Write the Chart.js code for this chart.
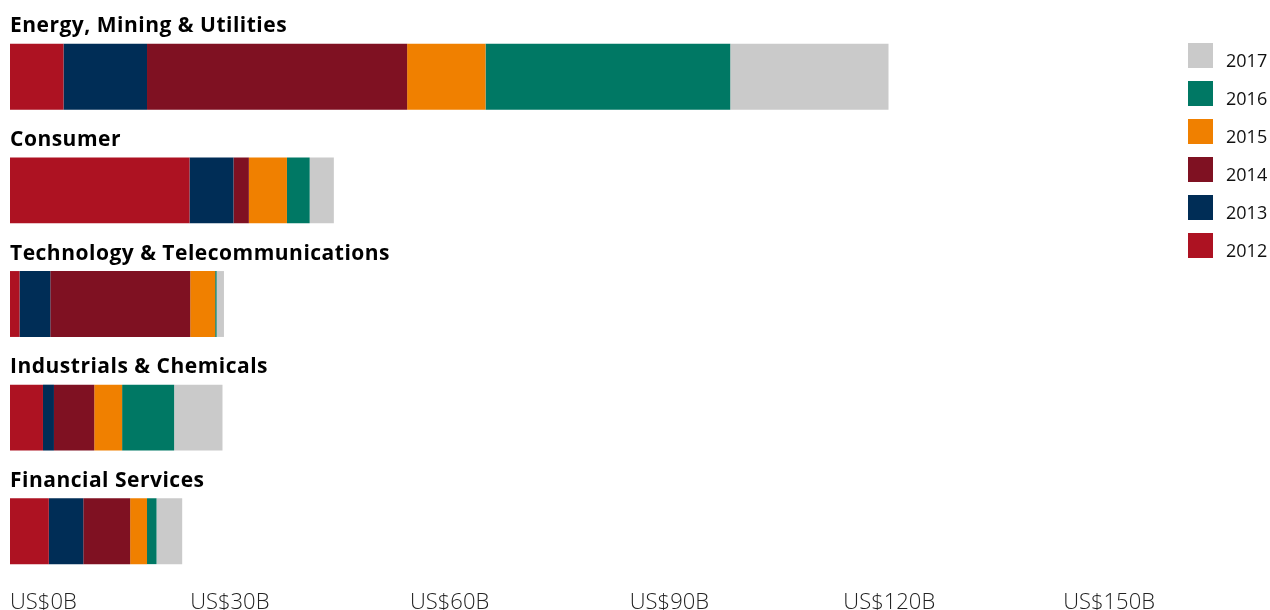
<!DOCTYPE html>
<html>
<head>
<meta charset="utf-8">
<script src="https://cdn.jsdelivr.net/npm/chart.js@4/dist/chart.umd.min.js"></script>
<style>
  html, body { margin: 0; padding: 0; background: #fff; }
  #wrap { width: 1270px; height: 610px; }
</style>
</head>
<body>
<div id="wrap"><canvas id="deals"></canvas></div>
<script>
// deal value by sector, US$ billions
const sectors = ['Energy, Mining & Utilities', 'Consumer', 'Technology & Telecommunications', 'Industrials & Chemicals', 'Financial Services'];
const years = ['2012', '2013', '2014', '2015', '2016', '2017'];
const v2012 = [7.3, 24.5, 1.3, 4.5, 5.3];
const v2013 = [11.4, 6.0, 4.2, 1.5, 4.7];
const v2014 = [35.5, 2.1, 19.1, 5.5, 6.4];
const v2015 = [10.7, 5.2, 3.4, 3.8, 2.3];
const v2016 = [33.4, 3.1, 0.2, 7.1, 1.3];
const v2017 = [21.6, 3.3, 1.0, 6.6, 3.5];
const tickValues = [0, 30, 60, 90, 120, 150];
const axisMax = 159;

const colours = ['#ad1222', '#002d56', '#7f1122', '#f08000', '#007864', '#cacaca'];
const series = [v2012, v2013, v2014, v2015, v2016, v2017];

// sector names sit above each bar instead of on a y axis
const sectorLabels = {
    id: 'sectorLabels',
    afterDatasetsDraw(chart) {
        const ctx = chart.ctx;
        const yScale = chart.scales.y;
        const bar = chart.getDatasetMeta(0).data;
        ctx.save();
        ctx.font = 'bold 21px "Open Sans"';
        ctx.letterSpacing = '0.5px';
        ctx.fillStyle = '#000';
        ctx.textAlign = 'left';
        ctx.textBaseline = 'alphabetic';
        sectors.forEach(function (name, i) {
            const top = yScale.getPixelForValue(i) - bar[i].height / 2;
            ctx.fillText(name, chart.chartArea.left, top - 11.5);
        });
        ctx.restore();
    }
};

// legend text sits a little right of and lower than the default spot
const legendText = {
    id: 'legendText',
    afterDraw(chart) {
        const legend = chart.legend;
        const ctx = chart.ctx;
        ctx.save();
        ctx.font = '18px "Open Sans"';
        ctx.fillStyle = '#111';
        ctx.textAlign = 'left';
        ctx.textBaseline = 'alphabetic';
        legend.legendItems.forEach(function (item, i) {
            const box = legend.legendHitBoxes[i];
            ctx.fillText(item.text, box.left + 38, box.top + 24);
        });
        ctx.restore();
    }
};

new Chart(document.getElementById('deals'), {
    type: 'bar',
    data: {
        labels: sectors,
        datasets: years.map(function (year, i) {
            return {
                label: year,
                data: series[i],
                backgroundColor: colours[i],
                borderWidth: 0,
                barPercentage: 0.58,
                categoryPercentage: 1
            };
        })
    },
    options: {
        indexAxis: 'y',
        responsive: true,
        maintainAspectRatio: false,
        animation: false,
        layout: { padding: { left: 10, top: 20, right: 2, bottom: 0 } },
        scales: {
            x: {
                stacked: true,
                min: 0,
                max: axisMax,
                grid: { display: false, drawTicks: false },
                border: { display: false },
                afterBuildTicks: function (scale) {
                    scale.ticks = tickValues.concat([axisMax]).map(function (v) { return { value: v }; });
                },
                afterFit: function (scale) {
                    scale.height = 22;
                },
                ticks: {
                    autoSkip: false,
                    maxRotation: 0,
                    align: 'inner',
                    padding: 4,
                    color: '#222',
                    font: { family: '"Open Sans"', size: 22, weight: '300', lineHeight: 1 },
                    callback: function (v) { return tickValues.includes(v) ? 'US$' + v + 'B' : ''; }
                }
            },
            y: {
                stacked: true,
                display: false
            }
        },
        plugins: {
            tooltip: { enabled: false },
            legend: {
                position: 'right',
                align: 'start',
                reverse: true,
                maxWidth: 93,
                title: { display: true, text: '', padding: 0, font: { size: 10, lineHeight: 1 } },
                labels: {
                    boxWidth: 25,
                    boxHeight: 25,
                    padding: 13,
                    color: 'rgba(0,0,0,0)',
                    font: { family: '"Open Sans"', size: 18 }
                }
            }
        }
    },
    plugins: [sectorLabels, legendText]
});
</script>
</body>
</html>
